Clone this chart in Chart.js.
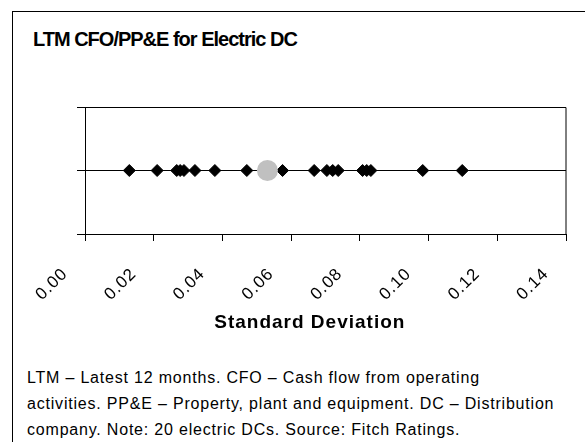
<!DOCTYPE html>
<html>
<head>
<meta charset="utf-8">
<script src="https://cdn.jsdelivr.net/npm/chart.js@4"></script>
<style>
  body { margin:0; background:#fff; font-family:"Liberation Sans", Arial, sans-serif; }
  #wrap { position:relative; width:585px; height:442px; overflow:hidden; }
  #frame { position:absolute; left:12px; top:11px; width:600px; height:500px; border:1px solid #000; }
  #titulo { position:absolute; left:33px; top:28px; font-size:20px; font-weight:bold; letter-spacing:-1px; color:#000; }
  #nota { position:absolute; left:27px; top:365px; font-size:16px; line-height:26px; letter-spacing:0.8px; color:#000; white-space:nowrap; }
  canvas { position:absolute; left:0; top:0; }
</style>
</head>
<body>
<div id="wrap">
  <div id="frame"></div>
  <div id="titulo">LTM CFO/PP&amp;E for Electric DC</div>
  <canvas id="grafica" width="585" height="345"></canvas>
  <div id="nota">LTM &ndash; Latest 12 months. CFO &ndash; Cash flow from operating<br>activities. PP&amp;E &ndash; Property, plant and equipment. DC &ndash; Distribution<br>company. Note: 20 electric DCs. Source: Fitch Ratings.</div>
</div>
<script>
//datos de la grafica
var desviaciones = [0.0129, 0.0210, 0.0267, 0.0277, 0.0288, 0.0320, 0.0378, 0.0471, 0.0575, 0.0667,
                    0.0704, 0.0721, 0.0737, 0.0808, 0.0820, 0.0832, 0.0983, 0.1098];
var promedio = [0.0531];
var ejeX = [0.00, 0.02, 0.04, 0.06, 0.08, 0.10, 0.12, 0.14];

var puntos = [];
for (var i in desviaciones){
  puntos.push({x: desviaciones[i], y: 0});
}
var puntoPromedio = [];
for (var j in promedio){
  puntoPromedio.push({x: promedio[j], y: 0});
}

// espaciado de letras como en el original
var espaciado = {
  id: 'espaciado',
  beforeLayout: function(chart){ chart.ctx.letterSpacing = '1px'; },
  beforeDraw: function(chart){ chart.ctx.letterSpacing = '1px'; }
};

// marco del area de la grafica (arriba y derecha)
var marco = {
  id: 'marco',
  afterDraw: function(chart){
    var a = chart.chartArea, ctx = chart.ctx;
    ctx.save();
    ctx.strokeStyle = '#000';
    ctx.lineWidth = 1;
    ctx.beginPath();
    ctx.moveTo(a.left, a.top + 0.5);
    ctx.lineTo(a.right, a.top + 0.5);
    ctx.lineTo(a.right, a.bottom);
    ctx.stroke();
    ctx.restore();
  }
};

var grafica = document.getElementById('grafica');
var chart = new Chart(grafica, {
  type: 'scatter',
  data: {
    datasets: [{
      label: 'DC',
      data: puntos,
      pointStyle: 'rectRot',
      pointRadius: 6,
      pointBorderWidth: 1,
      backgroundColor: '#000',
      borderColor: '#000',
      order: 2
    }, {
      label: 'Promedio',
      data: puntoPromedio,
      pointStyle: 'circle',
      pointRadius: 10.5,
      pointBorderWidth: 0,
      backgroundColor: '#c0c0c0',
      borderColor: '#c0c0c0',
      order: 1
    }]
  },
  options: {
    responsive: false,
    animation: false,
    events: [],
    layout: { padding: { top: 107, right: 19, left: 0, bottom: 0 } },
    plugins: { legend: { display: false }, tooltip: { enabled: false } },
    scales: {
      x: {
        type: 'linear',
        min: 0,
        max: 0.14,
        afterBuildTicks: function(axis){
          axis.ticks = ejeX.map(function(v){ return {value: v}; });
        },
        afterFit: function(axis){
          axis.height = 111;
          axis.paddingLeft = 0;
          axis.paddingRight = 0;
        },
        grid: { drawOnChartArea: false, drawTicks: true, tickLength: 7, color: '#000' },
        border: { color: '#000', width: 1 },
        ticks: {
          minRotation: 45,
          maxRotation: 45,
          padding: 23,
          labelOffset: -20,
          color: '#000',
          font: { family: 'Liberation Sans', size: 17 },
          callback: function(v){ return v.toFixed(2); }
        },
        title: {
          display: true,
          text: 'Standard Deviation\u00a0\u00a0\u00a0\u00a0\u00a0',
          color: '#000',
          font: { family: 'Liberation Sans', size: 19, weight: 'bold' },
          padding: { top: 0, bottom: 11 }
        }
      },
      y: {
        min: -1,
        max: 1,
        afterFit: function(axis){ axis.width = 85; },
        ticks: { display: false, stepSize: 1 },
        grid: { color: '#000', tickLength: 8, drawTicks: true },
        border: { color: '#000', width: 1 }
      }
    }
  },
  plugins: [espaciado, marco]
});
</script>
</body>
</html>
